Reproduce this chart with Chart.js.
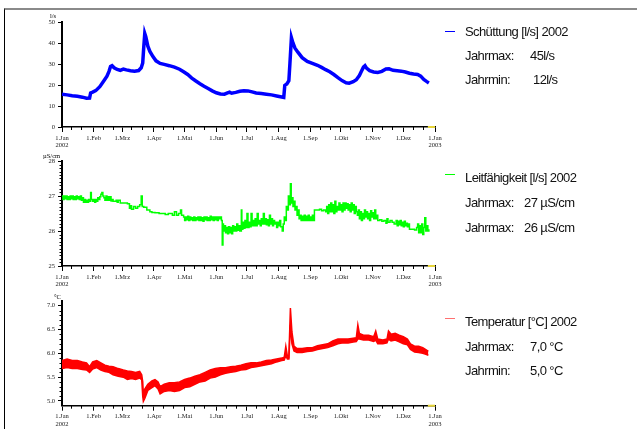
<!DOCTYPE html>
<html>
<head>
<meta charset="utf-8">
<title>Quelle 2002</title>
<script src="https://cdn.jsdelivr.net/npm/chart.js"></script>
<style>
    body { margin: 0; background: #fff; width: 637px; height: 429px; overflow: hidden; position: relative; font-family: "Liberation Sans", Arial, sans-serif; }
    .frame { position: absolute; left: 4px; top: 8px; right: 0; bottom: 0; border-top: 2px solid #8a8a8a; border-left: 1px solid #000; }
    canvas { position: absolute; left: 0; }
    .unit { position: absolute; font: 6.5px "Liberation Serif", serif; color: #000; white-space: nowrap; }
    .leg { position: absolute; font-size: 13px; line-height: 15px; letter-spacing: -0.6px; color: #111; white-space: nowrap; }
    .mark { position: absolute; left: 445px; width: 10px; height: 1px; }
</style>
</head>
<body>
<div class="frame"></div>

<canvas id="flowChart" width="637" height="150" style="top:0px"></canvas>
<canvas id="condChart" width="637" height="140" style="top:150px"></canvas>
<canvas id="tempChart" width="637" height="139" style="top:290px"></canvas>

<div class="unit" style="left:50px;top:12px">l/s</div>
<div class="unit" style="left:43px;top:152px">µS/cm</div>
<div class="unit" style="left:54px;top:293px">°C</div>

<div class="mark" style="top:31px;background:#0000ff"></div>
<div class="leg" style="left:465px;top:24px">Schüttung [l/s] 2002</div>
<div class="leg" style="left:465px;top:48px">Jahrmax:</div>
<div class="leg" style="left:530px;top:48px">45l/s</div>
<div class="leg" style="left:465px;top:72px">Jahrmin:</div>
<div class="leg" style="left:533px;top:72px">12l/s</div>

<div class="mark" style="top:174px;background:#00ff00"></div>
<div class="leg" style="left:465px;top:170px">Leitfähigkeit [l/s] 2002</div>
<div class="leg" style="left:465px;top:195px">Jahrmax:</div>
<div class="leg" style="left:524px;top:195px">27 µS/cm</div>
<div class="leg" style="left:465px;top:220px">Jahrmax:</div>
<div class="leg" style="left:524px;top:220px">26 µS/cm</div>

<div class="mark" style="top:318px;background:#ff7070"></div>
<div class="leg" style="left:465px;top:314px">Temperatur [°C] 2002</div>
<div class="leg" style="left:465px;top:339px">Jahrmax:</div>
<div class="leg" style="left:530px;top:339px">7,0 °C</div>
<div class="leg" style="left:465px;top:363px">Jahrmin:</div>
<div class="leg" style="left:530px;top:363px">5,0 °C</div>

<script>
// x = day of year 2002 (0 = 1.Jan)
const monthStarts = [0, 31, 59, 90, 120, 151, 181, 212, 243, 273, 304, 334, 365];
const monthLabels = [['1.Jan', '2002'], '1.Feb', '1.Mrz', '1.Apr', '1.Mai', '1.Jun', '1.Jul', '1.Aug', '1.Sep', '1.Okt', '1.Nov', '1.Dez', ['1.Jan', '2003']];
const gapDays = [358, 365];

// Schüttung l/s
const flowDays = [0, 5, 10, 15, 20, 24, 27, 28, 30, 33, 37, 41, 44, 46, 47.5, 49, 51, 54, 57, 60, 63, 67, 71, 75, 77.5, 79, 80, 81, 82, 84, 86, 89, 92, 96,
    100, 105, 110, 115, 119, 123, 127, 131, 135, 139, 143, 147, 151, 155, 159, 162, 164, 166, 170, 174, 178, 182, 186, 190, 195,
    200, 205, 210, 215, 217, 218, 220, 222, 223, 224.5, 226, 228, 231, 235, 240, 245, 250, 254, 258, 262, 266, 270, 274, 278, 281,
    285, 288, 291, 293, 295, 296.5, 298, 301, 305, 309, 313, 317, 320, 324, 328, 332, 336, 340, 344, 348, 351, 354, 357, 359];
const flowValues = [15.6, 15.3, 14.9, 14.6, 14.2, 13.7, 13.8, 16.2, 16.6, 17.3, 19.2, 22, 24.2, 26.5, 28.8, 29.2, 28.2, 27.4, 27.0, 27.6, 27.2, 26.8, 26.6, 26.9, 28.2, 30.5, 38, 44.5, 43, 38.5, 36, 33.5, 31.5, 30.3,
    29.8, 29.2, 28.5, 27.5, 26.3, 25, 23.3, 21.9, 20.6, 19.4, 18.3, 17.2, 16.3, 15.7, 15.6, 16.2, 16.6, 16.1, 16.5, 17.0, 17.3, 17.2, 16.7, 16.2, 15.9,
    15.6, 15.3, 14.8, 14.3, 14.1, 19.8, 20.5, 22, 30, 42.5, 40, 37.5, 35.5, 33, 31.2, 30.3, 29.4, 28.4, 27.3, 26.3, 25, 23.5, 22.1, 21.1, 20.9,
    21.6, 22.5, 24.5, 26.5, 28.5, 29.2, 28, 26.8, 26.2, 26.0, 26.5, 27.6, 27.7, 27.0, 26.8, 26.6, 26.2, 25.6, 25.2, 25.0, 24.2, 22.6, 21.6, 21.0];

// Leitfähigkeit µS/cm
const condDays = [0, 1, 2, 3, 4, 5, 6, 7, 8, 9, 10, 11, 12, 13, 14, 15, 16, 17, 18, 19, 20, 21, 22, 23, 24, 25, 26, 27, 28, 28.7,
    30, 31, 32, 33, 34, 35, 36, 37, 38, 39, 40, 41, 42, 43, 44, 45, 46, 47, 48, 49, 50, 53, 54, 55, 57, 60, 62, 64, 66, 67, 68, 70, 72, 74, 76, 77.5, 78.5,
    80, 83, 86, 88, 91, 95, 98, 101, 104, 107, 108, 110, 112, 114, 116, 117, 119,
    120, 121, 122, 123, 124, 125, 126, 127, 128, 129, 130, 131, 132, 133, 134, 135, 136, 137, 138, 139, 140, 141, 142, 143, 144, 145, 146, 147, 148, 149,
    150, 151, 152, 153, 154, 155, 156, 156.8, 157.5, 158, 159, 160, 161, 162, 163, 164, 165, 166, 167, 168, 169, 170, 171, 172, 173, 174, 175.5, 176, 177, 178, 179,
    180, 181, 182, 183, 184, 185, 186, 187, 188, 189, 190, 191, 192, 193, 194, 195, 196, 197, 198, 199, 200, 201, 202, 203, 204, 205, 206, 207, 208, 209,
    210, 211, 212, 213, 214, 215.5, 216.5, 217.5, 218.5, 219.5, 220.5, 221.5, 222.5, 223.5, 224.3, 225, 226, 227, 228, 229, 230, 231, 232, 233, 234, 235, 236, 237, 238, 239,
    240, 241, 242, 243, 244, 245, 246, 247, 250, 252, 254, 256, 258, 259, 260, 261, 262, 263, 264, 265, 266, 267, 268, 269, 270, 271, 272, 273, 274, 275, 276, 277, 278, 279,
    280, 281, 282, 283, 284, 285, 286, 287, 288, 289, 290, 291, 292, 293, 294, 295, 296, 297, 298, 299, 300, 301, 302, 303, 304, 305, 306, 307, 308, 309,
    311, 313, 315, 317, 318, 319, 321, 323, 325, 327, 328, 329, 330, 331, 332, 333, 334, 335, 336, 337, 338, 339, 340, 343, 345, 347, 348, 349,
    350, 351, 352, 353, 354, 355, 356, 357, 358, 359];
const condValues = [27.0, 26.9, 27.0, 26.92, 27.0, 26.9, 26.98, 26.9, 27.0, 26.92, 27.0, 26.9, 26.98, 26.9, 27.0, 26.92, 26.98, 26.9, 27.0, 26.88, 26.95, 26.82, 26.9, 26.82, 26.88, 26.82, 26.9, 26.85, 27.1, 26.9,
    26.85, 26.9, 26.82, 26.9, 26.85, 26.95, 26.9, 26.98, 27.05, 27.1, 27.0, 26.95, 26.88, 27.0, 26.88, 26.98, 26.88, 26.98, 26.86, 26.9, 26.85, 26.88, 26.82, 26.88, 26.8, 26.8, 26.8, 26.78, 26.65, 26.72, 26.62, 26.7, 26.65, 26.7, 26.75, 27.0, 26.7,
    26.68, 26.6, 26.55, 26.53, 26.52, 26.5, 26.5, 26.47, 26.5, 26.5, 26.45, 26.55, 26.45, 26.5, 26.6, 26.45, 26.4,
    26.3, 26.4, 26.32, 26.42, 26.3, 26.4, 26.32, 26.38, 26.3, 26.4, 26.3, 26.38, 26.32, 26.4, 26.3, 26.4, 26.3, 26.38, 26.28, 26.4, 26.32, 26.4, 26.3, 26.38, 26.3, 26.42, 26.32, 26.4, 26.3, 26.4,
    26.32, 26.4, 26.3, 26.4, 26.35, 26.4, 26.3, 25.6, 26.2, 26.0, 26.15, 25.95, 26.1, 25.92, 26.12, 25.95, 26.1, 25.92, 26.15, 26.0, 26.12, 26.0, 26.2, 26.02, 26.15, 26.0, 26.6, 26.05, 26.25, 26.08, 26.3,
    26.1, 26.5, 26.1, 26.25, 26.12, 26.5, 26.15, 26.3, 26.15, 26.35, 26.15, 26.5, 26.2, 26.3, 26.15, 26.35, 26.2, 26.5, 26.2, 26.35, 26.18, 26.32, 26.15, 26.45, 26.2, 26.35, 26.15, 26.3, 26.2, 26.25,
    26.1, 26.25, 26.15, 26.3, 26.12, 26.0, 26.2, 26.4, 26.3, 26.7, 26.6, 27.0, 26.75, 27.35, 26.8, 26.95, 26.7, 26.85, 26.6, 26.7, 26.45, 26.6, 26.35, 26.45, 26.3, 26.42, 26.3, 26.45, 26.3, 26.42,
    26.3, 26.45, 26.3, 26.4, 26.3, 26.45, 26.3, 26.6, 26.6, 26.62, 26.58, 26.6, 26.55, 26.7, 26.5, 26.75, 26.55, 26.8, 26.55, 26.75, 26.5, 26.85, 26.55, 26.7, 26.6, 26.8, 26.6, 26.75, 26.55, 26.8, 26.6, 26.8, 26.65, 26.78,
    26.6, 26.75, 26.55, 26.8, 26.6, 26.75, 26.5, 26.7, 26.55, 26.45, 26.6, 26.35, 26.55, 26.3, 26.5, 26.35, 26.6, 26.4, 26.55, 26.35, 26.5, 26.3, 26.58, 26.4, 26.52, 26.35, 26.6, 26.35, 26.45, 26.3,
    26.32, 26.28, 26.3, 26.22, 26.35, 26.25, 26.3, 26.25, 26.2, 26.3, 26.15, 26.28, 26.18, 26.3, 26.15, 26.25, 26.12, 26.28, 26.15, 26.22, 26.12, 26.2, 26.05, 26.05, 26.03, 26.1, 26.2, 25.95,
    26.15, 25.95, 26.2, 25.9, 26.1, 26.38, 26.0, 26.15, 26.0, 26.05];

// Temperatur °C (upper and lower edge of the noisy trace)
const tempDays = [0, 5, 10, 15, 20, 24, 27, 30, 34, 38, 42, 46, 50, 55, 60, 64, 68, 72, 76, 78, 79, 79.6, 81, 84, 88, 91, 94, 96,
    100, 105, 110, 115, 120, 125, 130, 135, 140, 145, 150, 155, 160, 165, 170, 175, 180, 185, 190, 195,
    200, 205, 210, 215, 217.5, 219, 220.5, 222, 223.5, 225, 227, 230, 235, 240, 245, 250, 255, 260, 265, 270, 275, 280, 285, 288, 289.5, 291, 295,
    300, 305, 307, 309, 314, 318, 319.5, 322, 326, 330, 334, 338, 341, 345, 349, 353, 356, 358.5];
const tempUpper = [5.85, 5.88, 5.85, 5.85, 5.82, 5.8, 5.72, 5.82, 5.85, 5.8, 5.75, 5.73, 5.72, 5.68, 5.65, 5.63, 5.62, 5.6, 5.62, 5.55, 5.4, 5.15, 5.25, 5.35, 5.42, 5.45, 5.4, 5.3,
    5.35, 5.38, 5.38, 5.4, 5.45, 5.48, 5.52, 5.55, 5.6, 5.65, 5.68, 5.7, 5.7, 5.72, 5.73, 5.75, 5.78, 5.8, 5.8, 5.82,
    5.85, 5.86, 5.88, 5.9, 5.92, 6.15, 5.95, 5.92, 6.95, 6.45, 6.15, 6.1, 6.1, 6.12, 6.12, 6.16, 6.18, 6.2, 6.26, 6.3, 6.3, 6.3, 6.32, 6.33, 6.6, 6.42, 6.38,
    6.38, 6.35, 6.47, 6.3, 6.28, 6.3, 6.47, 6.4, 6.42, 6.38, 6.35, 6.3, 6.2, 6.15, 6.15, 6.12, 6.08, 6.04];
const tempLower = [5.68, 5.7, 5.68, 5.68, 5.66, 5.65, 5.6, 5.67, 5.7, 5.65, 5.62, 5.6, 5.55, 5.52, 5.5, 5.45, 5.47, 5.45, 5.48, 5.45, 5.1, 4.99, 5.05, 5.22, 5.28, 5.32, 5.25, 5.15,
    5.2, 5.22, 5.2, 5.22, 5.28, 5.3, 5.35, 5.4, 5.42, 5.48, 5.5, 5.55, 5.58, 5.6, 5.62, 5.65, 5.66, 5.7, 5.72, 5.74,
    5.76, 5.78, 5.82, 5.85, 5.86, 5.95, 5.88, 5.88, 6.6, 6.2, 6.05, 6.02, 6.02, 6.04, 6.05, 6.08, 6.1, 6.12, 6.16, 6.2, 6.22, 6.22, 6.24, 6.25, 6.3, 6.3, 6.28,
    6.28, 6.25, 6.28, 6.2, 6.2, 6.22, 6.3, 6.26, 6.28, 6.24, 6.2, 6.18, 6.08, 6.03, 6.02, 6.0, 5.98, 5.96];

const pts = (xs, ys) => xs.map((x, i) => ({ x: x, y: ys[i] }));

const minorDays = [];
monthStarts.slice(0, 12).forEach(m => { minorDays.push(m + 9, m + 19); });

const minorTicks = {
    id: 'minorTicks',
    afterDraw(chart, args, opts) {
        const ctx = chart.ctx, xs = chart.scales.x, ys = chart.scales.y;
        ctx.save();
        ctx.strokeStyle = '#000';
        ctx.lineWidth = 1;
        ctx.beginPath();
        (opts.x || []).forEach(v => {
            const px = Math.round(xs.getPixelForValue(v)) + 0.5;
            ctx.moveTo(px, xs.top);
            ctx.lineTo(px, xs.top + 3);
        });
        (opts.y || []).forEach(v => {
            const py = Math.round(ys.getPixelForValue(v)) + 0.5;
            ctx.moveTo(ys.right - 2.5, py);
            ctx.lineTo(ys.right, py);
        });
        ctx.stroke();
        ctx.restore();
    }
};

const tickFont = { family: 'Liberation Serif', size: 6.5 };

function makeChart(id, height, top, bottom, yMin, yMax, yTicks, yFmt, yMinor, datasets) {
    const ctx = document.getElementById(id).getContext('2d');
    datasets.push({
        data: [{ x: gapDays[0], y: yMin }, { x: gapDays[1], y: yMin }],
        borderColor: '#e6d43a', borderWidth: 2, pointRadius: 0, clip: false
    });
    return new Chart(ctx, {
        type: 'line',
        data: { datasets: datasets },
        plugins: [minorTicks],
        options: {
            responsive: false,
            animation: false,
            events: [],
            layout: { autoPadding: false, padding: { left: 22, right: 202, top: top, bottom: height - bottom - 25 } },
            plugins: {
                legend: { display: false },
                tooltip: { enabled: false },
                minorTicks: { x: minorDays, y: yMinor }
            },
            scales: {
                x: {
                    type: 'linear', min: 0, max: 365,
                    afterBuildTicks: s => { s.ticks = monthStarts.map(v => ({ value: v })); },
                    afterFit: s => { s.height = 25; },
                    ticks: { autoSkip: false, maxRotation: 0, padding: 2, color: '#222', font: tickFont, callback: (v, i) => monthLabels[i] },
                    grid: { drawOnChartArea: false, tickLength: 5, color: '#000', lineWidth: 1 },
                    border: { color: '#000', width: 1.5 }
                },
                y: {
                    type: 'linear', min: yMin, max: yMax,
                    afterBuildTicks: s => { s.ticks = yTicks.map(v => ({ value: v })); },
                    afterFit: s => { s.width = 40; },
                    ticks: { padding: 3, color: '#222', font: tickFont, callback: yFmt },
                    grid: { drawOnChartArea: false, tickLength: 4, color: '#000', lineWidth: 1 },
                    border: { color: '#000', width: 2 }
                }
            }
        }
    });
}

const condMinor = [], tempMinor = [];
for (let i = 1; i < 30; i++) if (i % 10) condMinor.push(25 + i / 10);
for (let i = 1; i < 20; i++) if (i % 5) tempMinor.push(5 + i / 10);

makeChart('flowChart', 150, 22, 127, 0, 50, [0, 10, 20, 30, 40, 50], v => v, [], [{
    data: pts(flowDays, flowValues),
    borderColor: '#0000ff', borderWidth: 3.5, pointRadius: 0, tension: 0
}]);

makeChart('condChart', 140, 11, 116, 25, 28, [25, 26, 27, 28], v => v, condMinor, [{
    data: pts(condDays, condValues),
    borderColor: '#00ff00', borderWidth: 1.5, pointRadius: 0, stepped: true
}]);

makeChart('tempChart', 139, 11, 115.7, 4.9, 7.1, [5, 5.5, 6, 6.5, 7], v => v.toFixed(1), tempMinor, [{
    data: pts(tempDays, tempUpper),
    borderColor: '#ff0000', borderWidth: 1.5, pointRadius: 0, fill: false
}, {
    data: pts(tempDays, tempLower),
    borderColor: '#ff0000', borderWidth: 1.5, pointRadius: 0, fill: '-1', backgroundColor: '#ff0000'
}]);
</script>
</body>
</html>
